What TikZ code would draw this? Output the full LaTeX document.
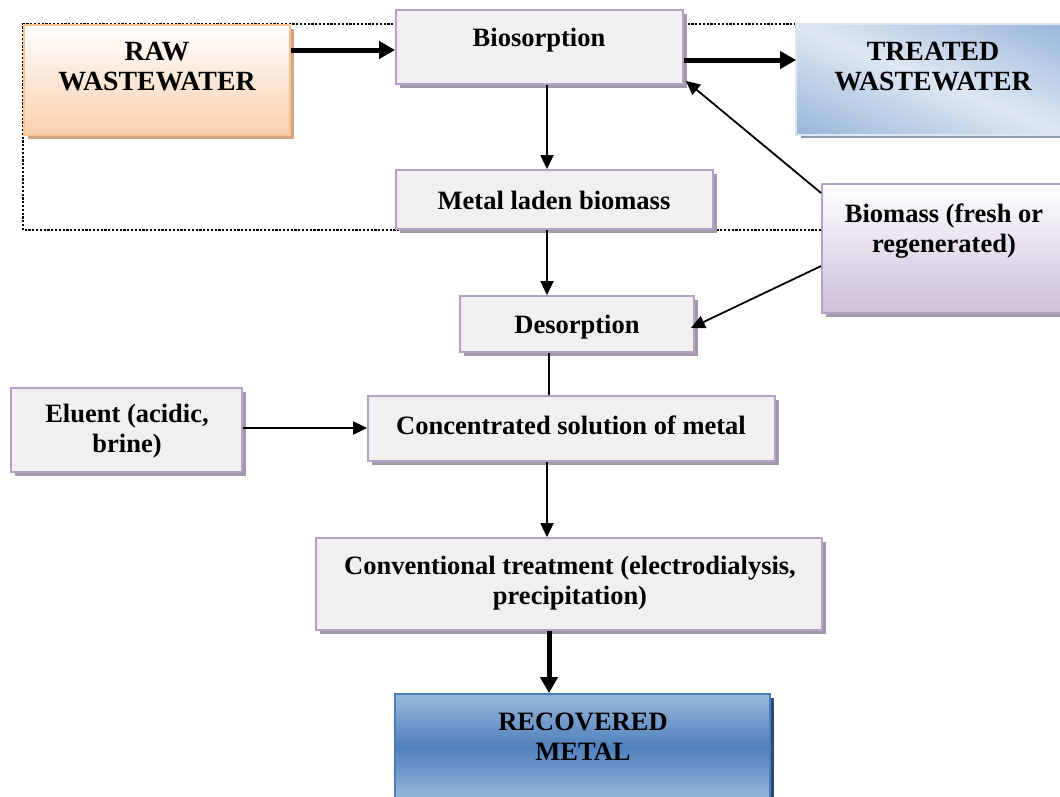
\documentclass[tikz,border=0pt]{standalone}
\usepackage{fontspec}
\setmainfont{Liberation Serif}
\usetikzlibrary{arrows.meta,shadows,backgrounds}

\definecolor{boxfill}{HTML}{F0F0F0}
\definecolor{boxline}{HTML}{B3A2C7}
\definecolor{boxshade}{HTML}{A09AAA}
\definecolor{rawline}{HTML}{FAC090}
\definecolor{rawbot}{HTML}{F8CFAE}
\definecolor{rawshade}{HTML}{D3A683}
\definecolor{twdark}{HTML}{95B3D7}
\definecolor{twlight}{HTML}{DDE7F2}
\definecolor{twshade}{HTML}{8C99AE}
\definecolor{bmbot}{HTML}{CCBFDA}
\definecolor{recmid}{HTML}{4F81BD}
\definecolor{recedge}{HTML}{9AB7DB}
\definecolor{recline}{HTML}{4A7CBB}
\definecolor{recshade}{HTML}{2C4A73}

\tikzset{
  basebox/.style={rectangle, line width=1.8pt, inner sep=0pt},
  graybox/.style={basebox, draw=boxline, fill=boxfill,
    drop shadow={shadow xshift=4pt, shadow yshift=-4pt, fill=boxshade, opacity=1}},
  rawbox/.style={basebox, draw=rawline, top color=white, bottom color=rawbot,
    drop shadow={shadow xshift=4pt, shadow yshift=-4pt, fill=rawshade, opacity=1}},
  treatbox/.style={basebox, draw=twlight, fill=twlight,
    drop shadow={shadow xshift=4pt, shadow yshift=-4pt, fill=twshade, opacity=1}},
  bmbox/.style={basebox, draw=boxline, top color=white, bottom color=bmbot,
    drop shadow={shadow xshift=4pt, shadow yshift=-4pt, fill=boxshade, opacity=1}},
  recbox/.style={basebox, draw=recline, top color=recedge, bottom color=recedge, middle color=recmid,
    drop shadow={shadow xshift=4pt, shadow yshift=-4pt, fill=recshade, opacity=1}},
  txt/.style={align=center, inner sep=0pt, font=\fontsize{26.5}{30}\selectfont\bfseries},
  bigtxt/.style={txt, font=\fontsize{27.8}{30}\selectfont\bfseries},
  thinarrow/.style={line width=1.8pt, -{Triangle[length=14pt,width=13pt]}},
  thickarrow/.style={line width=5pt, -{Triangle[length=16pt,width=17pt]}},
  plainline/.style={line width=1.8pt},
  loopline/.style={line width=2.2pt, dash pattern=on 2.2pt off 1.6pt}
}

\begin{document}
\begin{tikzpicture}[x=1pt,y=-1pt]
\useasboundingbox (0,0) rectangle (1060,796);

% boxes
\node[rawbox, minimum width=266pt, minimum height=110pt] (raw) at (157,80) {};
\node[graybox, minimum width=287pt, minimum height=74pt] (bio) at (539.5,47) {};
\node[treatbox, minimum width=267pt, minimum height=109pt] (treat) at (930.5,79.5) {};
\node[graybox, minimum width=317pt, minimum height=59pt] (mlb) at (554.5,199.5) {};
\node[bmbox, minimum width=242pt, minimum height=129pt] (bm) at (943,248.5) {};
\node[graybox, minimum width=234pt, minimum height=56pt] (des) at (577,324) {};
\node[graybox, minimum width=231pt, minimum height=84pt] (elu) at (126.5,430) {};
\node[graybox, minimum width=407pt, minimum height=65pt] (conc) at (571.5,428.5) {};
\node[graybox, minimum width=506pt, minimum height=92pt] (conv) at (569,584) {};
\node[recbox, minimum width=375pt, minimum height=106pt] (rec) at (582.5,747) {};

% diagonal dark-light-dark gradient inside the treated-water box
\begin{scope}
  \clip (treat.south west) rectangle (treat.north east);
  \begin{scope}[transform canvas={rotate around={68:(treat.center)}}]
    \shade[left color=twdark, right color=twdark, middle color=twlight]
      ([shift={(-108,-170)}]treat.center) rectangle ([shift={(108,170)}]treat.center);
  \end{scope}
\end{scope}
\draw[twlight, line width=1.8pt] (treat.south west) rectangle (treat.north east);

% labels
\node[bigtxt] (raw-t) at (157,67) {RAW\\WASTEWATER};
\node[txt] (bio-t) at (539,40) {Biosorption};
\node[bigtxt] (treat-t) at (933,67) {TREATED\\WASTEWATER};
\node[txt] (mlb-t) at (554,200) {Metal laden biomass};
\node[txt] (bm-t) at (944,231) {Biomass (fresh or\\regenerated)};
\node[txt] (des-t) at (577,327) {Desorption};
\node[txt] (elu-t) at (127,431) {Eluent (acidic,\\brine)};
\node[txt] (conc-t) at (571,425) {Concentrated solution of metal};
\node[txt] (conv-t) at (570,583) {Conventional treatment (electrodialysis,\\precipitation)};
\node[txt] (rec-t) at (583,737) {RECOVERED\\METAL};

% recycling loop behind the upper boxes
\begin{scope}[on background layer]
\draw[loopline] (treat.north west) -- (raw.north west) -- (raw.west |- mlb.south) -- (bm.west |- mlb.south);
\end{scope}

% connectors
\draw[thickarrow] ([yshift=30pt]raw.east) -- ([yshift=30pt]raw.east -| bio.west);
\draw[thickarrow] ([yshift=-13pt]bio.east) -- ([yshift=-13pt]bio.east -| treat.west);
\draw[thinarrow] ([xshift=7.5pt]bio.south) -- ([xshift=7.5pt]bio.south |- mlb.north);
\draw[thinarrow] ([xshift=-7.5pt]mlb.south) -- ([xshift=-7.5pt]mlb.south |- des.north);
\draw[plainline] ([xshift=-28pt]des.south) -- ([xshift=-28pt]des.south |- conc.north);
\draw[thinarrow] ([yshift=2pt]elu.east) -- ([yshift=2pt]elu.east -| conc.west);
\draw[thinarrow] ([xshift=-24.5pt]conc.south) -- ([xshift=-24.5pt]conc.south |- conv.north);
\draw[thickarrow] ([xshift=-20pt]conv.south) -- ([xshift=-20pt]conv.south |- rec.north);
\draw[thinarrow] ([yshift=55.5pt]bm.west) -- ([xshift=2pt,yshift=4pt]bio.south east);
\draw[thinarrow] ([yshift=-17.5pt]bm.west) -- ([xshift=-4pt,yshift=-4pt]des.east);
\end{tikzpicture}
\end{document}
